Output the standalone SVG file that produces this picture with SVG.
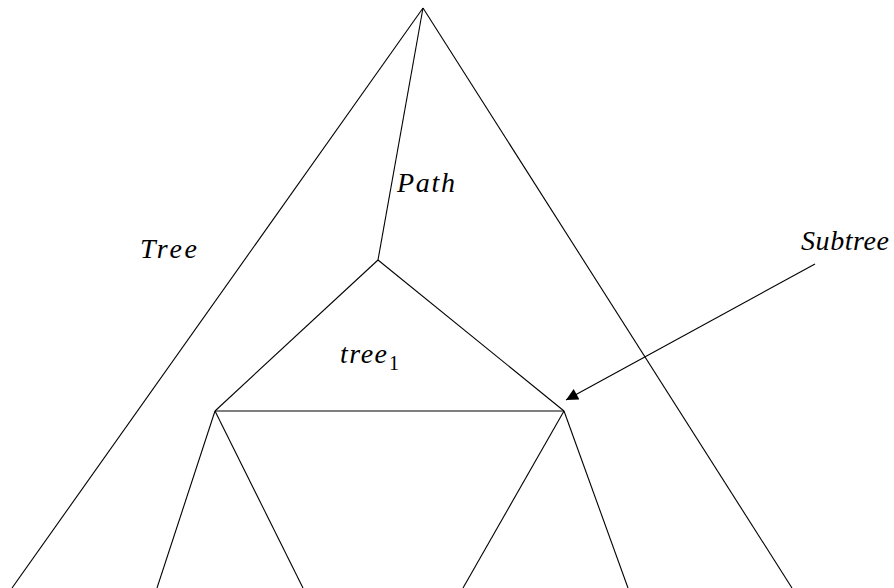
<svg xmlns="http://www.w3.org/2000/svg" width="894" height="588" viewBox="0 0 894 588">
<style>
line{stroke:#000;stroke-width:1.1;fill:none}
.lbl{font-family:'Liberation Serif','Times New Roman',serif;font-style:italic;font-size:28px;fill:#000}
</style>
<defs>
<marker id="ah" viewBox="0 0 10 10" refX="10" refY="5" markerWidth="18" markerHeight="12" markerUnits="userSpaceOnUse" orient="auto">
<path d="M0,0 L10,5 L0,10 z" fill="#000"/>
</marker>
</defs>
<rect width="894" height="588" fill="#fff"/>
<g id="connectors">
<line x1="423" y1="8" x2="12" y2="588"/>
<line x1="423" y1="8" x2="792" y2="588"/>
<line x1="423" y1="8" x2="378" y2="260"/>
<line x1="378" y1="260" x2="215" y2="411"/>
<line x1="378" y1="260" x2="564" y2="411"/>
<line x1="215" y1="411" x2="564" y2="411"/>
<line x1="215" y1="411" x2="157" y2="588"/>
<line x1="215" y1="411" x2="303" y2="588"/>
<line x1="564" y1="411" x2="463" y2="588"/>
<line x1="564" y1="411" x2="628" y2="588"/>
<line x1="815" y1="264" x2="566" y2="400" marker-end="url(#ah)"/>
</g>
<g id="tree"><text class="lbl" x="140" y="258" textLength="57" lengthAdjust="spacing">Tree</text></g>
<g id="path"><text class="lbl" x="397" y="192" textLength="58" lengthAdjust="spacing">Path</text></g>
<g id="subtree"><text class="lbl" x="801" y="250" textLength="88" lengthAdjust="spacing">Subtree</text></g>
<g id="tree1"><text class="lbl" x="340" y="363"><tspan textLength="47" lengthAdjust="spacing">tree</tspan><tspan font-style="normal" font-size="20" x="389" y="370">1</tspan></text></g>
</svg>
